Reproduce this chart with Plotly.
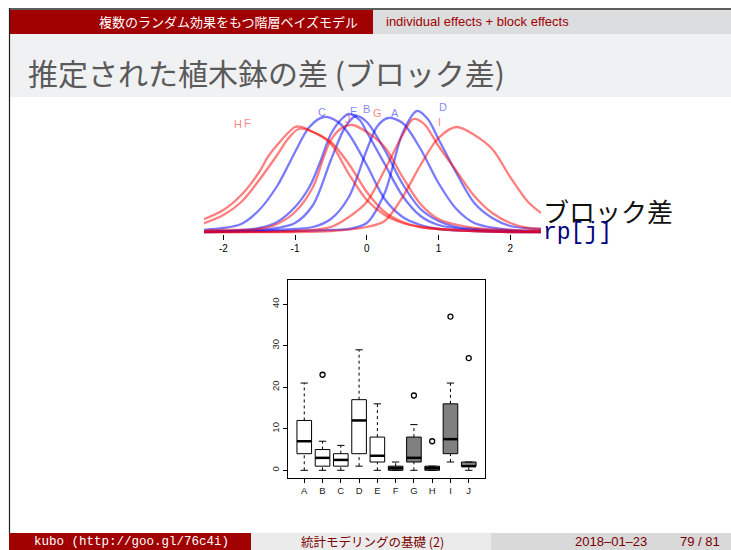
import plotly.graph_objects as go

# ---------------- data ----------------
blocks = ["A", "B", "C", "D", "E", "F", "G", "H", "I", "J"]

# posterior densities of block effects rp[j]
a_x = [-2.3, -1.5, -1.0, -0.75, -0.5, -0.25, 0, 0.15, 0.3, 0.5, 0.75, 1.0, 1.25, 1.5, 2.0, 2.45]
a_y = [0.0, 0.01, 0.03, 0.05, 0.13, 0.35, 0.82, 1.06, 1.14, 1.09, 0.83, 0.49, 0.23, 0.09, 0.02, 0.01]
b_x = [-2.3, -1.5, -1.25, -1.0, -0.75, -0.5, -0.3, -0.15, 0, 0.25, 0.5, 0.75, 1.0, 1.25, 1.5, 2.0, 2.45]
b_y = [0.0, 0.02, 0.04, 0.09, 0.27, 0.72, 1.05, 1.16, 1.10, 0.82, 0.48, 0.23, 0.11, 0.05, 0.03, 0.01, 0.0]
c_x = [-2.3, -2.0, -1.75, -1.5, -1.25, -1.1, -1.0, -0.8, -0.6, -0.4, -0.25, 0, 0.25, 0.5, 0.75, 1.0, 1.5, 2.45]
c_y = [0.02, 0.04, 0.08, 0.22, 0.46, 0.66, 0.80, 1.05, 1.15, 1.10, 0.98, 0.67, 0.33, 0.15, 0.07, 0.03, 0.01, 0.0]
d_x = [-2.3, -1.0, -0.5, -0.25, 0, 0.25, 0.5, 0.7, 0.85, 1.0, 1.25, 1.5, 1.75, 2.0, 2.45]
d_y = [0.0, 0.01, 0.02, 0.03, 0.09, 0.39, 0.99, 1.21, 1.13, 0.93, 0.59, 0.29, 0.14, 0.06, 0.03]
e_x = [-2.3, -2.0, -1.5, -1.25, -1.0, -0.8, -0.65, -0.5, -0.35, -0.25, -0.1, 0, 0.25, 0.5, 0.75, 1.0, 1.5, 2.0, 2.45]
e_y = [0.0, 0.01, 0.04, 0.10, 0.25, 0.45, 0.70, 0.98, 1.13, 1.18, 1.12, 1.00, 0.68, 0.36, 0.16, 0.07, 0.02, 0.0, 0.0]
f_x = [-2.3, -2.0, -1.75, -1.5, -1.25, -1.1, -0.95, -0.75, -0.5, -0.25, 0, 0.25, 0.5, 0.75, 1.0, 1.5, 2.0, 2.45]
f_y = [0.08, 0.17, 0.30, 0.52, 0.77, 0.93, 1.03, 1.00, 0.88, 0.58, 0.32, 0.17, 0.09, 0.05, 0.03, 0.01, 0.0, 0.0]
g_x = [-2.3, -1.0, -0.5, -0.25, 0, 0.25, 0.5, 0.65, 0.8, 1.0, 1.25, 1.5, 1.75, 2.0, 2.25, 2.45]
g_y = [0.0, 0.01, 0.05, 0.15, 0.30, 0.62, 0.97, 1.13, 1.08, 0.86, 0.61, 0.36, 0.19, 0.09, 0.04, 0.03]
h_x = [-2.3, -2.0, -1.75, -1.5, -1.38, -1.25, -1.0, -0.9, -0.75, -0.5, -0.25, 0, 0.25, 0.5, 0.75, 1.0, 1.5, 2.0, 2.45]
h_y = [0.12, 0.22, 0.37, 0.60, 0.75, 0.87, 1.05, 1.05, 1.00, 0.90, 0.68, 0.40, 0.20, 0.10, 0.05, 0.03, 0.01, 0.0, 0.0]
i_x = [-2.3, -0.5, 0, 0.25, 0.5, 0.75, 1.0, 1.25, 1.5, 1.75, 2.0, 2.25, 2.45]
i_y = [0.0, 0.01, 0.05, 0.11, 0.35, 0.67, 0.94, 1.05, 0.97, 0.83, 0.55, 0.30, 0.18]
j_x = [-2.3, -2.0, -1.5, -1.25, -1.0, -0.75, -0.6, -0.5, -0.35, -0.2, 0, 0.25, 0.5, 0.75, 1.0, 1.5, 2.0, 2.45]
j_y = [0.01, 0.02, 0.03, 0.08, 0.20, 0.45, 0.75, 0.92, 1.04, 1.07, 1.00, 0.85, 0.55, 0.28, 0.13, 0.04, 0.02, 0.01]

# label positions for the density curves
label_x = [0.40, -0.01, -0.63, 1.07, -0.18, -1.67, 0.15, -1.79, 1.01, -0.26]
label_y = [1.19, 1.23, 1.20, 1.25, 1.21, 1.09, 1.19, 1.08, 1.10, 1.13]

density_ticks = [-2, -1, 0, 1, 2]

# boxplot statistics (counts per pot)
box_low = [0, 0, 0, 1, 0, 0, 0, 0, 2, 0]
box_q1 = [4, 1, 1, 4, 2, 0, 2, 0, 4, 1]
box_med = [7, 3, 2.5, 12, 3.5, 0.5, 3, 0.5, 7.5, 1]
box_q3 = [12, 5, 4, 17, 8, 1, 8, 1, 16, 2]
box_high = [21, 7, 6, 29, 16, 2, 11, 1, 21, 2]
outlier_block = ["B", "G", "H", "I", "J"]
outlier_value = [23, 18, 7, 37, 27]
box_ticks = [0, 10, 20, 30, 40]

# ---------------- figure ----------------
W, H = 731, 550
def px(x): return x / W
def py(y): return 1 - y / H

blue_line = "rgba(0,0,255,0.52)"
red_line = "rgba(255,0,0,0.5)"

dens_x = [a_x, b_x, c_x, d_x, e_x, f_x, g_x, h_x, i_x, j_x]
dens_y = [a_y, b_y, c_y, d_y, e_y, f_y, g_y, h_y, i_y, j_y]

fig = go.Figure()
for k, blk in enumerate(blocks):
    col = blue_line if k < 5 else red_line
    fig.add_trace(go.Scatter(x=dens_x[k], y=dens_y[k], mode="lines",
                             line=dict(color=col, width=2.3, shape="spline", smoothing=0.9),
                             xaxis="x", yaxis="y", hoverinfo="skip", showlegend=False))

for k, blk in enumerate(blocks):
    col = "rgba(0,0,255,0.5)" if k < 5 else "rgba(255,0,0,0.5)"
    fig.add_annotation(x=label_x[k], y=label_y[k], xref="x", yref="y", text=blk,
                       showarrow=False, font=dict(family="Liberation Sans", size=11, color=col))

# boxplot
bx_wh, by_wh = [], []
bx_cap, by_cap = [], []
bx_med, by_med = [], []
for i in range(len(blocks)):
    fill = "white" if i < 5 else "#808080"
    fig.add_trace(go.Scatter(x=[i - 0.4, i + 0.4, i + 0.4, i - 0.4, i - 0.4],
                             y=[box_q1[i], box_q1[i], box_q3[i], box_q3[i], box_q1[i]],
                             mode="lines", fill="toself", fillcolor=fill,
                             line=dict(color="black", width=1),
                             xaxis="x2", yaxis="y2", hoverinfo="skip", showlegend=False))
    if box_high[i] > box_q3[i]:
        bx_wh += [i, i, None]; by_wh += [box_q3[i], box_high[i], None]
    if box_low[i] < box_q1[i]:
        bx_wh += [i, i, None]; by_wh += [box_low[i], box_q1[i], None]
    bx_cap += [i - 0.2, i + 0.2, None, i - 0.2, i + 0.2, None]
    by_cap += [box_high[i], box_high[i], None, box_low[i], box_low[i], None]
    bx_med += [i - 0.4, i + 0.4, None]; by_med += [box_med[i], box_med[i], None]

fig.add_trace(go.Scatter(x=bx_wh, y=by_wh, mode="lines",
                         line=dict(color="black", width=1, dash="3px,3px"),
                         xaxis="x2", yaxis="y2", hoverinfo="skip", showlegend=False))
fig.add_trace(go.Scatter(x=bx_cap, y=by_cap, mode="lines", line=dict(color="black", width=1),
                         xaxis="x2", yaxis="y2", hoverinfo="skip", showlegend=False))
fig.add_trace(go.Scatter(x=bx_med, y=by_med, mode="lines", line=dict(color="black", width=2.5),
                         xaxis="x2", yaxis="y2", hoverinfo="skip", showlegend=False))
fig.add_trace(go.Scatter(x=[blocks.index(b) for b in outlier_block], y=outlier_value, mode="markers",
                         marker=dict(symbol="circle-open", size=5, color="black", line=dict(width=1.3)),
                         xaxis="x2", yaxis="y2", hoverinfo="skip", showlegend=False))

# ---------------- slide decorations ----------------
shapes = []
def rect(x0, y0, x1, y1, color):
    shapes.append(dict(type="rect", xref="paper", yref="paper", x0=px(x0), x1=px(x1),
                       y0=py(y1), y1=py(y0), fillcolor=color, line=dict(width=0), layer="below"))
rect(9, 8, 731, 10, "#5e5e5e")
rect(9.5, 10, 373, 34, "#a00000")
rect(373, 10, 731, 34, "#dcdddf")
rect(9.5, 34, 731, 97, "#f0f1f3")
rect(9, 533, 251, 550, "#a00000")
rect(251, 533, 491, 550, "#ebebeb")
rect(491, 533, 731, 550, "#d9d9d9")
shapes.append(dict(type="line", xref="paper", yref="paper", x0=px(9.5), x1=px(9.5),
                   y0=py(533), y1=py(8), line=dict(color="#222222", width=1.2)))

def text(x, y, s, size, color, family, anchor="left"):
    fig.add_annotation(x=px(x), y=py(y), xref="paper", yref="paper", text=s, showarrow=False,
                       xanchor=anchor, yanchor="middle",
                       font=dict(size=size, color=color, family=family))

cjk = "Noto Sans CJK JP"
text(360, 21.5, "複数のランダム効果をもつ階層ベイズモデル", 13, "white", cjk, "right")
text(384, 21.5, "individual effects + block effects", 13, "#a00000", "Liberation Sans", "left")
text(26, 72, "推定された植木鉢の差 (ブロック差)", 30, "#5a5a5a", cjk, "left")
text(541, 210, "ブロック差", 26, "#111111", cjk, "left")
text(541, 233, "rp[j]", 23, "#000080", "Liberation Mono", "left")
text(131, 541.5, "kubo (http://goo.gl/76c4i)", 12.5, "white", "Liberation Mono", "center")
text(372, 541.5, "統計モデリングの基礎 (2)", 12.5, "#7a0000", cjk, "center")
text(611, 541.5, "2018–01–23", 13, "#7a0000", "Liberation Sans", "center")
text(722, 541.5, "79 / 81", 13, "#7a0000", "Liberation Sans", "right")

fig.update_layout(
    width=W, height=H, margin=dict(l=0, r=0, t=0, b=0),
    paper_bgcolor="white", plot_bgcolor="rgba(0,0,0,0)",
    shapes=shapes, showlegend=False,
    xaxis=dict(domain=[px(204), px(541)], range=[-2.27, 2.43], anchor="y",
               tickvals=density_ticks, ticktext=[str(t) for t in density_ticks],
               ticks="outside", ticklen=5, tickcolor="black", tickwidth=1,
               showline=False, showgrid=False, zeroline=False,
               tickfont=dict(family="Liberation Sans", size=10, color="black")),
    yaxis=dict(domain=[py(234), py(100)], range=[-0.02, 1.32], visible=False, anchor="x"),
    xaxis2=dict(domain=[px(288), px(485)], range=[-0.89, 9.89], anchor="y2",
                tickvals=list(range(len(blocks))), ticktext=blocks,
                ticks="outside", ticklen=4, tickcolor="black", tickwidth=1,
                showline=True, linecolor="black", linewidth=1, mirror=True,
                showgrid=False, zeroline=False,
                tickfont=dict(family="Liberation Sans", size=9.5, color="#222222")),
    yaxis2=dict(domain=[py(478), py(280)], range=[-1.85, 45.8], anchor="x2",
                tickvals=box_ticks, ticktext=[str(t) for t in box_ticks], tickangle=-90,
                ticks="outside", ticklen=4, tickcolor="black", tickwidth=1,
                showline=True, linecolor="black", linewidth=1, mirror=True,
                showgrid=False, zeroline=False,
                tickfont=dict(family="Liberation Sans", size=9.5, color="#222222")),
)

fig.write_html("out.html", config={"displayModeBar": False},
               post_script="document.body.style.margin='0px';document.body.style.overflow='hidden';")
